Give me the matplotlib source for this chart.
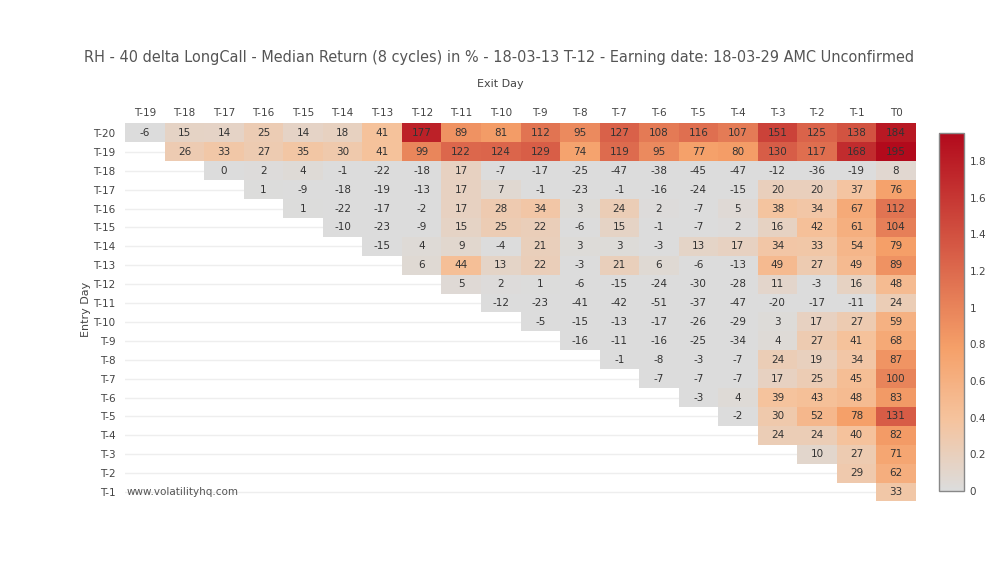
import numpy as np
import matplotlib
matplotlib.use("Agg")
import matplotlib.pyplot as plt
from matplotlib.colors import LinearSegmentedColormap

exit_days = ["T-19", "T-18", "T-17", "T-16", "T-15", "T-14", "T-13", "T-12", "T-11", "T-10",
             "T-9", "T-8", "T-7", "T-6", "T-5", "T-4", "T-3", "T-2", "T-1", "T0"]
entry_days = ["T-20", "T-19", "T-18", "T-17", "T-16", "T-15", "T-14", "T-13", "T-12", "T-11",
              "T-10", "T-9", "T-8", "T-7", "T-6", "T-5", "T-4", "T-3", "T-2", "T-1"]

# each row starts at the exit day just after its entry day
row_t20 = [-6, 15, 14, 25, 14, 18, 41, 177, 89, 81, 112, 95, 127, 108, 116, 107, 151, 125, 138, 184]
row_t19 = [26, 33, 27, 35, 30, 41, 99, 122, 124, 129, 74, 119, 95, 77, 80, 130, 117, 168, 195]
row_t18 = [0, 2, 4, -1, -22, -18, 17, -7, -17, -25, -47, -38, -45, -47, -12, -36, -19, 8]
row_t17 = [1, -9, -18, -19, -13, 17, 7, -1, -23, -1, -16, -24, -15, 20, 20, 37, 76]
row_t16 = [1, -22, -17, -2, 17, 28, 34, 3, 24, 2, -7, 5, 38, 34, 67, 112]
row_t15 = [-10, -23, -9, 15, 25, 22, -6, 15, -1, -7, 2, 16, 42, 61, 104]
row_t14 = [-15, 4, 9, -4, 21, 3, 3, -3, 13, 17, 34, 33, 54, 79]
row_t13 = [6, 44, 13, 22, -3, 21, 6, -6, -13, 49, 27, 49, 89]
row_t12 = [5, 2, 1, -6, -15, -24, -30, -28, 11, -3, 16, 48]
row_t11 = [-12, -23, -41, -42, -51, -37, -47, -20, -17, -11, 24]
row_t10 = [-5, -15, -13, -17, -26, -29, 3, 17, 27, 59]
row_t9 = [-16, -11, -16, -25, -34, 4, 27, 41, 68]
row_t8 = [-1, -8, -3, -7, 24, 19, 34, 87]
row_t7 = [-7, -7, -7, 17, 25, 45, 100]
row_t6 = [-3, 4, 39, 43, 48, 83]
row_t5 = [-2, 30, 52, 78, 131]
row_t4 = [24, 24, 40, 82]
row_t3 = [10, 27, 71]
row_t2 = [29, 62]
row_t1 = [33]

rows = [row_t20, row_t19, row_t18, row_t17, row_t16, row_t15, row_t14, row_t13, row_t12, row_t11,
        row_t10, row_t9, row_t8, row_t7, row_t6, row_t5, row_t4, row_t3, row_t2, row_t1]

title = "RH - 40 delta LongCall - Median Return (8 cycles) in % - 18-03-13 T-12 - Earning date: 18-03-29 AMC Unconfirmed"

nr, nc = len(entry_days), len(exit_days)
Z = np.full((nr, nc), np.nan)
for i, r in enumerate(rows):
    Z[i, nc - len(r):] = r
Zm = np.ma.masked_invalid(Z / 100.0)

# plotly 'Reds' colorscale
cmap = LinearSegmentedColormap.from_list("plotly_reds", [
    (0.0, (220/255, 220/255, 220/255)),
    (0.2, (245/255, 195/255, 157/255)),
    (0.4, (245/255, 160/255, 105/255)),
    (1.0, (178/255, 10/255, 28/255)),
])
cmap.set_bad((1, 1, 1, 0))

fig = plt.figure(figsize=(10, 5.84), dpi=100)
plt.rcParams['font.family'] = ['DejaVu Sans']
txtc = "#444444"

ax = fig.add_axes([0.1253, 0.1413, 0.7904, 0.6473])
vmin, vmax = 0.0, 1.95
for i in range(nr):
    ax.axhline(i, color="#eeeeee", lw=1, zorder=0)
mesh = ax.pcolormesh(np.arange(nc + 1) - 0.5, np.arange(nr + 1) - 0.5, Zm,
                     cmap=cmap, vmin=vmin, vmax=vmax, zorder=1)
ax.set_xlim(-0.5, nc - 0.5)
ax.set_ylim(nr - 0.5, -0.5)
for i in range(nr):
    for j in range(nc):
        if not np.isnan(Z[i, j]):
            ax.text(j, i, "%d" % Z[i, j], ha="center", va="center", fontsize=7.5,
                    color="#333333", zorder=2)

ax.set_xticks(range(nc))
ax.set_xticklabels(exit_days, fontsize=7.5, color=txtc)
ax.xaxis.tick_top()
ax.set_yticks(range(nr))
ax.set_yticklabels(entry_days, fontsize=7.5, color=txtc)
ax.tick_params(axis="y", length=0, pad=7)
ax.tick_params(axis="x", length=0, pad=4)
for s in ax.spines.values():
    s.set_visible(False)

fig.text(0.4995, 0.901, title, ha="center", va="center", fontsize=11.6, color="#555555",
         fontstretch="condensed")
fig.text(0.5, 0.857, "Exit Day", ha="center", va="center", fontsize=8, color=txtc)
fig.text(0.086, 0.47, "Entry Day", ha="center", va="center", rotation=90, fontsize=8, color=txtc)
fig.text(0.127, 0.157, "www.volatilityhq.com", ha="left", va="center", fontsize=7.5, color="#555555")

cax = fig.add_axes([0.939, 0.1592, 0.025, 0.6125])
cb = fig.colorbar(mesh, cax=cax)
cb.set_ticks([0, 0.2, 0.4, 0.6, 0.8, 1, 1.2, 1.4, 1.6, 1.8])
cb.set_ticklabels(["0", "0.2", "0.4", "0.6", "0.8", "1", "1.2", "1.4", "1.6", "1.8"])
cb.ax.tick_params(length=0, labelsize=7.5, labelcolor=txtc, pad=4)
cb.outline.set_edgecolor("#888888")
cb.outline.set_linewidth(1)

fig.savefig("out.png", dpi=100)
